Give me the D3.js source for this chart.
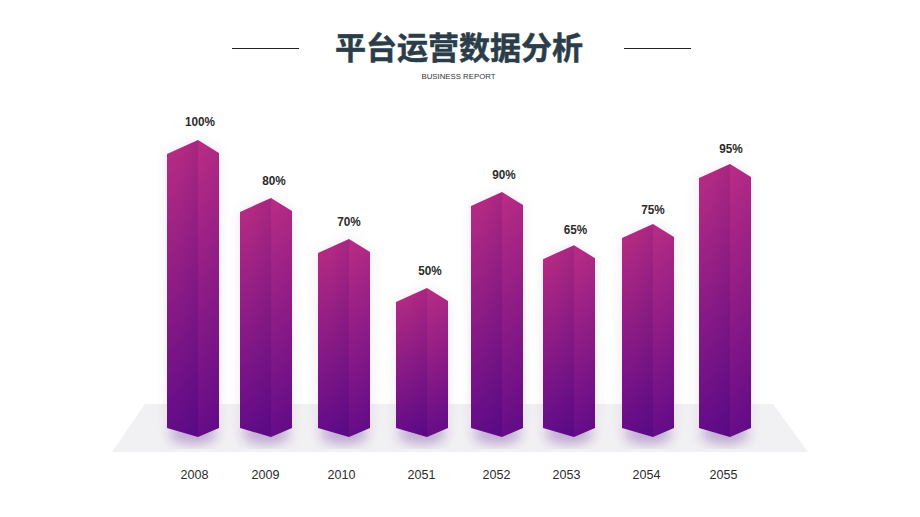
<!DOCTYPE html>
<html>
<head>
<meta charset="utf-8">
<script src="https://cdn.jsdelivr.net/npm/d3@7"></script>
<style>
  html, body { margin: 0; padding: 0; background: #fff; }
  svg { display: block; }
  .tick text { font-family: "Liberation Sans", Arial, sans-serif; font-size: 13.5px; fill: #2b2b2b; }
</style>
</head>
<body>
<svg id="chart" width="920" height="517"></svg>
<script>
// ── Data ──
const categories = ['2008', '2009', '2010', '2051', '2052', '2053', '2054', '2055'];
const percentLabels = [100, 80, 70, 50, 90, 65, 75, 95];
// bar heights as drawn, relative to the tallest: the picture doesn't follow its own labels exactly
const drawnLevels = [100, 80.5, 66.7, 50.2, 82.5, 64.6, 71.7, 91.9];

const svg = d3.select('#chart');
const defs = svg.append('defs');

// ── Scales ──
// bars and their labels are unevenly placed in the picture so the ranges are listed per category
const x = d3.scaleOrdinal().domain(categories).range([193, 266, 344, 422, 497, 569, 648, 725]);
const xLabel = d3.scaleOrdinal().domain(categories).range([194, 265, 341, 421, 496, 566, 646, 723]);
const xValue = d3.scaleOrdinal().domain(categories).range([200, 274, 349, 430, 504, 575.5, 653, 731]);
const yValue = d3.scaleOrdinal().domain(categories).range([126, 185, 226, 275, 179, 234, 214, 153]);
const y = d3.scaleLinear().domain([0, 100]).range([437, 140]);

// ── Gradients and shadow ──
function addGradient(id, top, bottom) {
    const g = defs.append('linearGradient').attr('id', id)
        .attr('x1', 0.45).attr('y1', 0).attr('x2', 0.55).attr('y2', 1);
    g.append('stop').attr('offset', 0).attr('stop-color', top);
    g.append('stop').attr('offset', 1).attr('stop-color', bottom);
}
addGradient('face-left', '#b62b82', '#5e0a88');
addGradient('face-right', '#b62b84', '#620b88');

// slight darkening towards the middle edge of the column
defs.append('linearGradient').attr('id', 'edge-shade')
    .attr('x1', 0).attr('x2', 1).attr('y1', 0).attr('y2', 0)
    .call(g => {
        g.append('stop').attr('offset', 0.4).attr('stop-color', '#3c0a6e').attr('stop-opacity', 0);
        g.append('stop').attr('offset', 1).attr('stop-color', '#3c0a6e').attr('stop-opacity', 0.09);
    });

defs.append('filter').attr('id', 'soft')
    .attr('x', '-40%').attr('y', '-20%').attr('width', '180%').attr('height', '140%')
    .append('feGaussianBlur').attr('stdDeviation', 6);

// ── Title block ──
svg.append('text').attr('x', 459).attr('y', 59).attr('text-anchor', 'middle')
    .attr('font-family', '"Noto Sans CJK SC", sans-serif').attr('font-weight', 700)
    .attr('font-size', 31).attr('fill', '#2a3d48')
    .attr('stroke', '#2a3d48').attr('stroke-width', 0.5)
    .text('平台运营数据分析');
svg.append('text').attr('x', 458.5).attr('y', 79).attr('text-anchor', 'middle')
    .attr('font-family', '"Liberation Sans", Arial, sans-serif')
    .attr('font-size', 7.8).attr('fill', '#333').text('BUSINESS REPORT');
svg.selectAll('.rule').data([[232, 299], [624, 691]]).enter().append('line')
    .attr('class', 'rule')
    .attr('x1', d => d[0]).attr('x2', d => d[1]).attr('y1', 48.5).attr('y2', 48.5)
    .attr('stroke', '#222').attr('stroke-width', 1);

// ── Floor ──
svg.append('path').attr('d', 'M145,404H773L808,452H112Z').attr('fill', '#f1f0f2');

// ── Bars ──
const halfW = 26, midOff = 5, shoulder = 14, footDrop = 9;

const leftFace = d => {
    const c = x(d.cat), t = y(d.level);
    return `M${c - halfW},${t + shoulder}L${c + midOff},${t}V${y(0)}L${c - halfW},${y(0) - footDrop}Z`;
};
const rightFace = d => {
    const c = x(d.cat), t = y(d.level);
    return `M${c + midOff},${t}L${c + halfW},${t + shoulder - 1}V${y(0) - footDrop}L${c + midOff},${y(0)}Z`;
};

const rows = categories.map((cat, i) => ({ cat, level: drawnLevels[i], label: percentLabels[i] }));

// soft glow round each column, stronger under its foot
svg.selectAll('.glow').data(rows).enter().append('path')
    .attr('class', 'glow')
    .attr('d', d => leftFace(d) + rightFace(d))
    .attr('fill', '#8a3fa8').attr('opacity', 0.13).attr('filter', 'url(#soft)');
svg.selectAll('.foot').data(rows).enter().append('ellipse')
    .attr('class', 'foot')
    .attr('cx', d => x(d.cat)).attr('cy', y(0) - 2)
    .attr('rx', halfW - 2).attr('ry', 10)
    .attr('fill', '#5d1a94').attr('opacity', 0.3).attr('filter', 'url(#soft)');

const bars = svg.selectAll('.bar').data(rows).enter().append('g').attr('class', 'bar');
bars.append('path').attr('d', leftFace).attr('fill', 'url(#face-left)');
bars.append('path').attr('d', leftFace).attr('fill', 'url(#edge-shade)');
bars.append('path').attr('d', rightFace).attr('fill', 'url(#face-right)');

// ── Value labels ──
// reference type is tall and narrow, hence the horizontal squeeze
svg.selectAll('.value').data(rows).enter().append('text')
    .attr('class', 'value')
    .attr('transform', d => `translate(${xValue(d.cat)},${yValue(d.cat)}) scale(0.87,1)`)
    .attr('text-anchor', 'middle')
    .attr('font-family', '"Liberation Sans", Arial, sans-serif')
    .attr('font-weight', 700).attr('font-size', 13.5).attr('fill', '#2b2b2b')
    .text(d => d.label + '%');

// ── Category axis ──
svg.append('g').attr('transform', 'translate(0,479)')
    .call(d3.axisBottom(xLabel).tickSize(0).tickPadding(0))
    .call(g => g.select('.domain').remove())
    .call(g => g.selectAll('.tick text').attr('y', 0).attr('dy', 0).attr('transform', 'scale(0.93,1)'));
</script>
</body>
</html>
